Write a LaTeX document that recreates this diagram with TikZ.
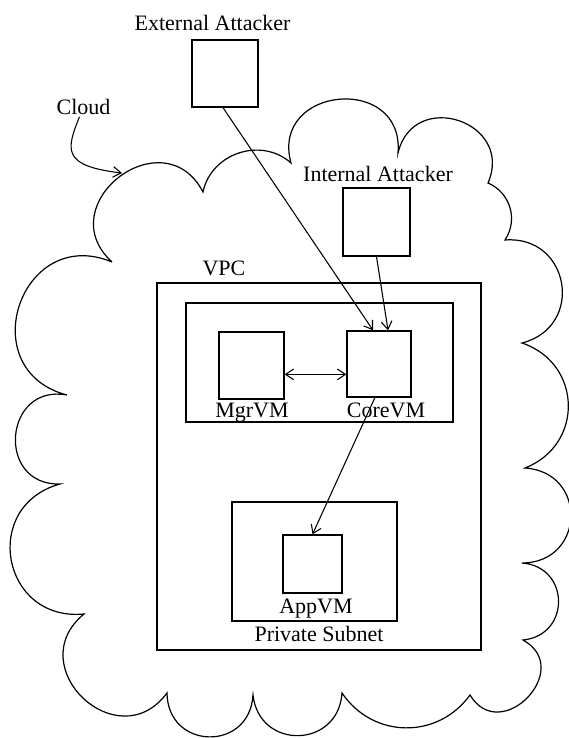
\documentclass[tikz,border=0pt]{standalone}
\usepackage{fontspec}
\setmainfont{Liberation Serif}
\usetikzlibrary{arrows.meta}
\tikzset{
    box/.style={rectangle, draw, line width=1pt, inner sep=0pt},
    lbl/.style={anchor=base, inner sep=1pt, font=\fontsize{16.5}{19}\selectfont},
    link/.style={draw, line width=0.8pt, -{Straight Barb[length=6pt, width=8pt]}},
    puff/.style={line width=0.9pt, line join=miter},
}

\begin{document}
\begin{tikzpicture}[x=0.75pt, y=-0.75pt]
    \useasboundingbox (0,0) rectangle (568,738);

    \draw[puff] (112,262)
        to[bend left=100, looseness=1.9] (203,192)
        to[bend left=60, looseness=1.1] (291,163)
        to[bend left=100, looseness=1.9] (398,153)
        to[bend left=95, looseness=1.8] (488,183)
        to[bend left=50, looseness=1.05] (505,240)
        to[bend left=85, looseness=1.6] (522,343)
        to[bend left=70, looseness=1.3] (525,468)
        to[bend left=88, looseness=1.7] (522,563)
        to[bend left=85, looseness=1.6] (523,640)
        to[bend left=105, looseness=2] (470,695)
        to[bend left=55, looseness=1.1] (342,693)
        to[bend left=85, looseness=1.6] (253,695)
        to[bend left=88, looseness=1.7] (167,693)
        to[bend left=97, looseness=1.85] (84,614)
        to[bend left=85, looseness=1.6] (60,484)
        to[bend left=96, looseness=1.85] (67,395)
        to[bend left=94, looseness=1.8] (112,262);
    \coordinate (cloudtip) at (122,173);

    \node[box, minimum width=243pt, minimum height=275.25pt] (vpc) at (319,466.5) {};
    \node[box, minimum width=200.25pt, minimum height=89.25pt] (vmgroup) at (319.5,362.5) {};
    \node[box, minimum width=123.75pt, minimum height=89.25pt] (subnet) at (314.5,561.5) {};

    \node[box, minimum width=49.5pt, minimum height=50.25pt] (ext) at (225,73.5) {};
    \node[box, minimum width=50.25pt, minimum height=51pt] (int) at (376.5,222) {};
    \node[box, minimum width=48.75pt, minimum height=50.25pt] (mgr) at (251.5,365.5) {};
    \node[box, minimum width=48pt, minimum height=49.5pt] (core) at (379,364) {};
    \node[box, minimum width=44.25pt, minimum height=43.5pt] (app) at (312.5,564) {};

    \node[lbl] (extlbl) at (212.5,31) {External Attacker};
    \node[lbl] (cloudlbl) at (83.5,115) {Cloud};
    \node[lbl] (intlbl) at (378,181) {Internal Attacker};
    \node[lbl] (vpclbl) at (224,275) {VPC};
    \node[lbl] (mgrlbl) at (252,417.5) {MgrVM};
    \node[lbl] (corelbl) at (386,417.5) {CoreVM};
    \node[lbl] (applbl) at (316,613) {AppVM};
    \node[lbl] (subnetlbl) at (319,641) {Private Subnet};

    \draw[link] ([xshift=-3pt]cloudlbl.south) .. controls (66,150) and (62,166) .. (cloudtip);
    \draw[link] ([xshift=-1.5pt]ext.south) -- (core.100);
    \draw[link] (int.south) -- (core.75);
    \draw[link, {Straight Barb[length=6pt, width=8pt]}-{Straight Barb[length=6pt, width=8pt]}] (mgr.345) -- (mgr.345 -| core.west);
    \draw[link] (core.263) -- (app.north);
\end{tikzpicture}
\end{document}
